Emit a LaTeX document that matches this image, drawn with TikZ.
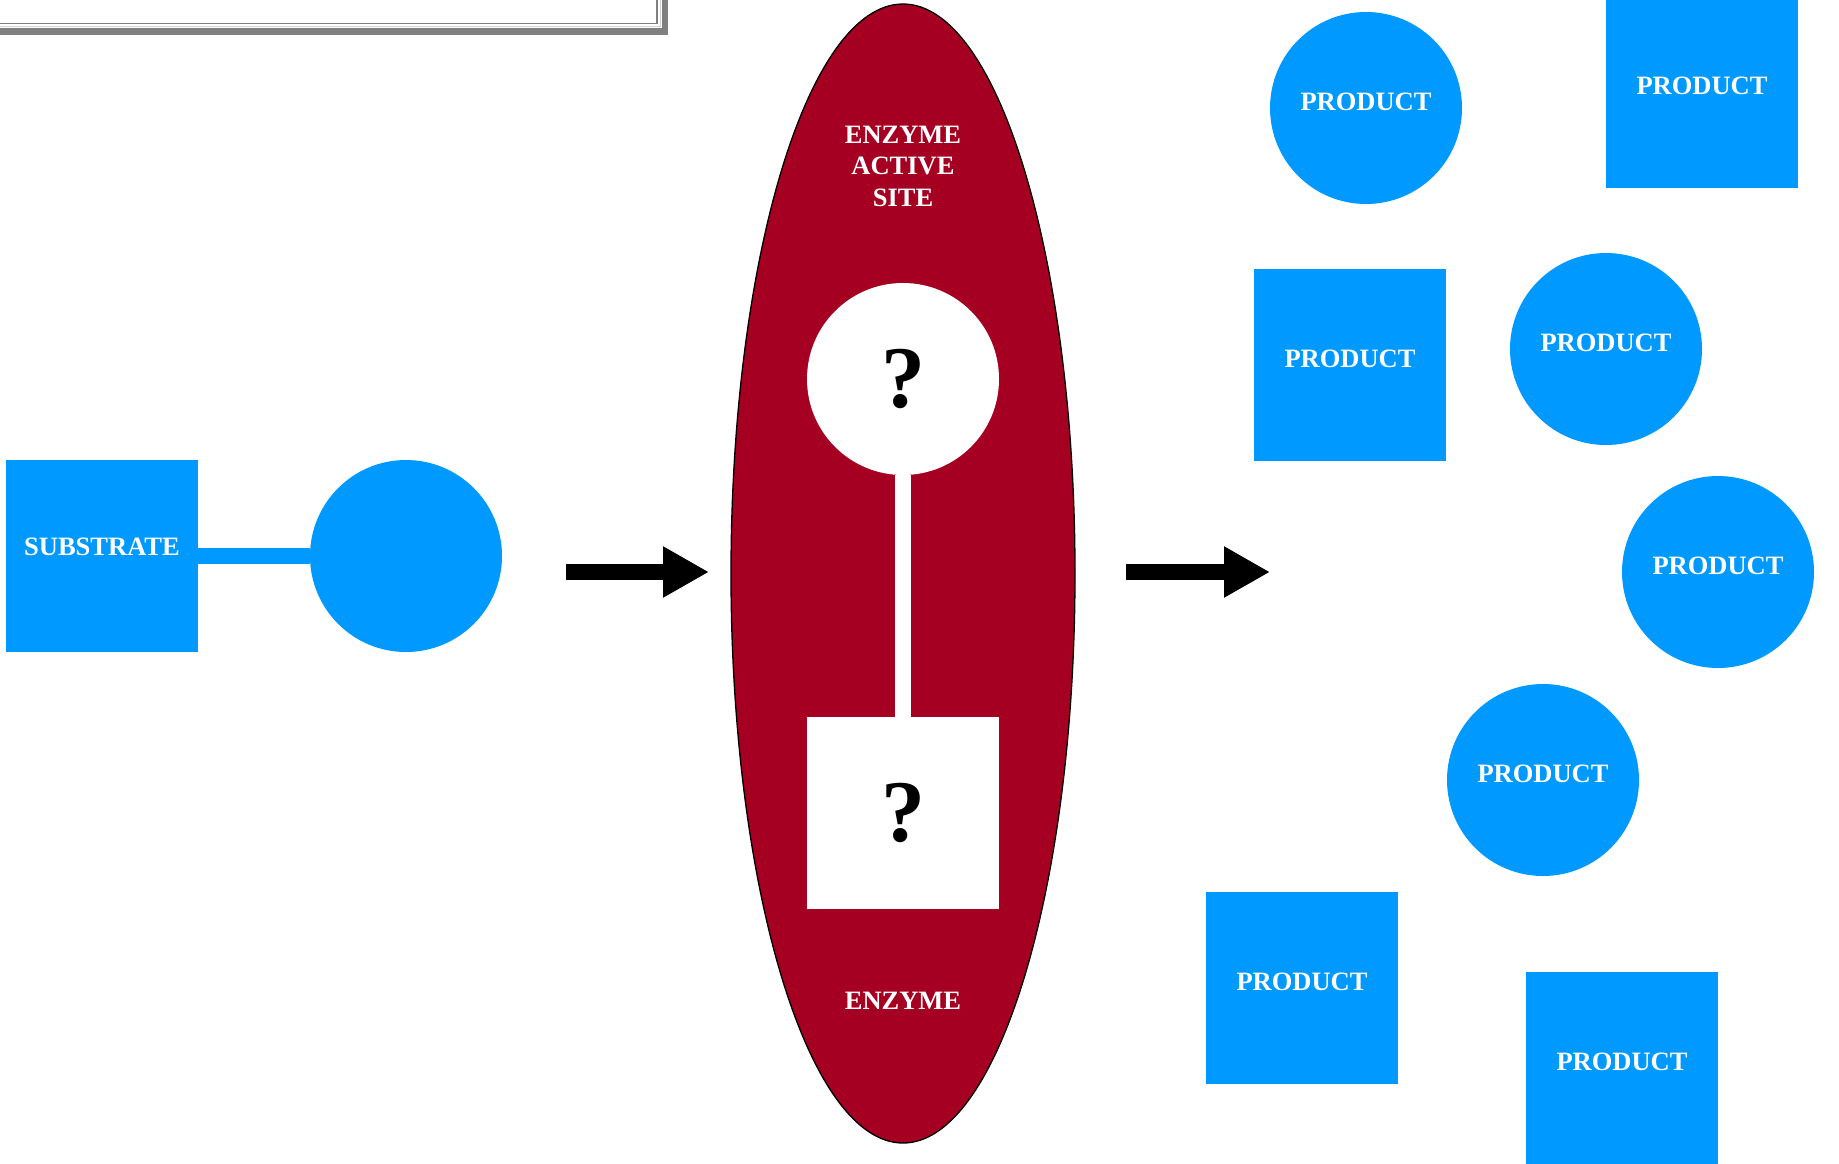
\documentclass[tikz,border=0pt]{standalone}
\usepackage{fontspec}
\setmainfont{Liberation Serif}
\usetikzlibrary{shapes.geometric,arrows.meta}
\definecolor{molblue}{HTML}{0099FF}
\definecolor{enzred}{HTML}{A50021}
\definecolor{framegray}{HTML}{808080}
\begin{document}
\begin{tikzpicture}[x=1pt,y=-1pt,
  lbl/.style={font=\fontsize{26.5}{31.5}\selectfont\bfseries, text=white},
  sqr/.style={rectangle, fill=molblue, minimum size=192pt, inner sep=0pt, lbl, text depth=12pt},
  crc/.style={circle, fill=molblue, minimum size=192pt, inner sep=0pt, lbl, text depth=12pt},
  hole/.style={fill=white, minimum size=192pt, inner sep=0pt,
    font=\fontsize{88}{88}\selectfont\bfseries, text=black},
  blockarrow/.style={line width=16pt, -{Triangle[length=46pt,width=48pt]}},
  bond/.style={line width=16pt}
]
\useasboundingbox (0,0) rectangle (1839,1163);
\clip (0,0) rectangle (1839,1163);

% title frame with drop shadow
\fill[framegray] (-5,-5) rectangle (668,35);
\fill[white] (-5,-5) rectangle (662,28);
\draw[framegray, line width=1.5pt] (-5,-5) rectangle (657,23.5);
\draw[gray!35, line width=1pt] (-5,-5) rectangle (660,26);

% substrate: square bonded to a circle
\node[sqr, text depth=18pt] (sub) at (102,556) {SUBSTRATE};
\node[crc] (subc) at (406,556) {};
\draw[bond, molblue] (sub.east) -- (subc.west);

% enzyme with its active site
\node[ellipse, fill=enzred, draw=black, line width=1.3pt,
      minimum width=344pt, minimum height=1139pt, inner sep=0pt] (enz) at (903,573.5) {};
\node[lbl, align=center] (site) at (903,166) {ENZYME\\ACTIVE\\SITE};
\node[lbl] (enzlbl) at (903,1001) {ENZYME};
\node[hole, circle] (q1) at (903,379) {?};
\node[hole, rectangle] (q2) at (903,813) {?};
\draw[bond, white] (q1.south) -- (q2.north);

% reaction arrows
\coordinate (a1s) at (566,572);
\coordinate (a1e) at (709,572);
\coordinate (a2s) at (1126,572);
\coordinate (a2e) at (1270,572);
\draw[blockarrow] (a1s) -- (a1e);
\draw[blockarrow] (a2s) -- (a2e);

% products
\node[crc] (p1) at (1366,108) {PRODUCT};
\node[sqr] (p2) at (1702,92) {PRODUCT};
\node[sqr] (p3) at (1350,365) {PRODUCT};
\node[crc] (p4) at (1606,349) {PRODUCT};
\node[crc] (p5) at (1718,572) {PRODUCT};
\node[crc] (p6) at (1543,780) {PRODUCT};
\node[sqr] (p7) at (1302,988) {PRODUCT};
\node[sqr] (p8) at (1622,1068) {PRODUCT};
\end{tikzpicture}
\end{document}
